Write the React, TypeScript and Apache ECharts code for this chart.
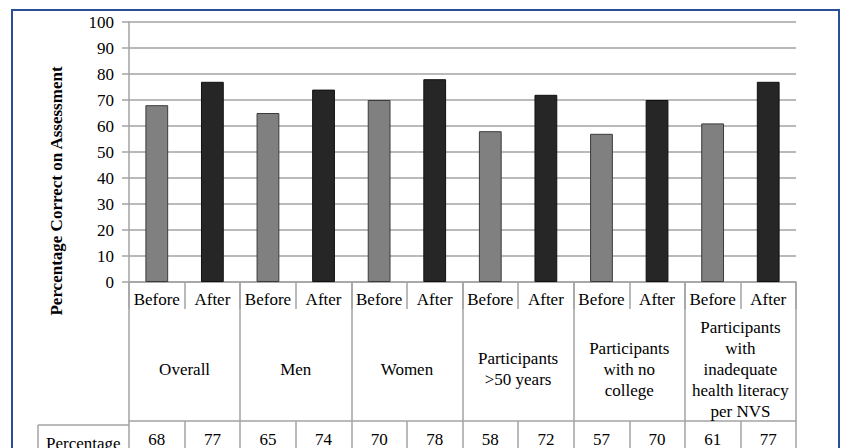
import React, { useEffect, useRef } from "react";
import * as echarts from "echarts";

const phases = ["Before", "After", "Before", "After", "Before", "After", "Before", "After", "Before", "After", "Before", "After"];
const groups = [
  "Overall",
  "Men",
  "Women",
  "Participants\n>50 years",
  "Participants\nwith no\ncollege",
  "Participants\nwith\ninadequate\nhealth literacy\nper NVS",
];
const values = [68, 77, 65, 74, 70, 78, 58, 72, 57, 70, 61, 77];
const yTicks = { min: 0, max: 100, interval: 10 };
const rowLabel = "Percentage";
const yTitle = "Percentage Correct on Assessment";

const FONT = "Liberation Serif";
const FS = 17;
const LINE = "#a3a3a3";

export default function App() {
  const ref = useRef<HTMLDivElement>(null);
  useEffect(() => {
    if (!ref.current) return;
    const chart = echarts.init(ref.current, null, { renderer: "svg" });
    const gridTop = 22;
    const gridBottomY = 286;
    const tableRowY = 425;
    chart.setOption({
      animation: false,
      backgroundColor: "#ffffff",
      textStyle: { fontFamily: FONT },
      grid: { left: 129, right: 47, top: gridTop, bottom: 448 - gridBottomY, containLabel: false },
      yAxis: {
        type: "value",
        min: yTicks.min,
        max: yTicks.max,
        interval: yTicks.interval,
        axisLine: { show: true, lineStyle: { color: LINE, width: 1.5 } },
        axisTick: { show: true, length: 7, lineStyle: { color: LINE, width: 1.5 } },
        axisLabel: { color: "#000", fontSize: FS, fontFamily: FONT, margin: 15 },
        splitLine: { show: true, lineStyle: { color: LINE, width: 1.5 } },
      },
      xAxis: [
        {
          type: "category",
          data: phases,
          position: "bottom",
          axisLine: { show: true, lineStyle: { color: LINE, width: 1.5 } },
          axisTick: { show: true, length: 27, interval: 0, lineStyle: { color: LINE, width: 1.5 } },
          axisLabel: { color: "#000", fontSize: FS, fontFamily: FONT, margin: 9, interval: 0 },
          splitLine: { show: false },
        },
        {
          type: "category",
          data: groups,
          position: "bottom",
          axisLine: { show: false },
          axisTick: { show: true, length: tableRowY - gridBottomY, interval: 0, lineStyle: { color: LINE, width: 1.5 } },
          axisLabel: {
            color: "#000",
            fontSize: FS,
            fontFamily: FONT,
            lineHeight: 21,
            margin: 87,
            verticalAlign: "middle",
            interval: 0,
            align: "center",
          },
        },
        {
          type: "category",
          data: values.map((v) => String(v)),
          position: "bottom",
          offset: tableRowY - gridBottomY,
          axisLine: { show: true, lineStyle: { color: LINE, width: 1.5 } },
          axisTick: { show: true, length: 40, interval: 0, lineStyle: { color: LINE, width: 1.5 } },
          axisLabel: { color: "#000", fontSize: FS, fontFamily: FONT, margin: 10, interval: 0 },
        },
      ],
      series: [
        {
          type: "bar",
          xAxisIndex: 0,
          barWidth: "41%",
          data: values.map((v, i) => ({
            value: v,
            itemStyle: {
              color: i % 2 === 0 ? "#808080" : "#262626",
              borderColor: i % 2 === 0 ? "#3a3a3a" : "#111111",
              borderWidth: 1,
            },
          })),
        },
      ],
      graphic: [
        {
          type: "rect",
          shape: { x: 12, y: 10, width: 827, height: 460 },
          style: { fill: "none", stroke: "#2b4f94", lineWidth: 2 },
          silent: true,
        },
        {
          type: "line",
          shape: { x1: 38, y1: tableRowY, x2: 129, y2: tableRowY },
          style: { stroke: LINE, lineWidth: 1.5 },
        },
        {
          type: "line",
          shape: { x1: 38, y1: tableRowY, x2: 38, y2: 460 },
          style: { stroke: LINE, lineWidth: 1.5 },
        },
        {
          type: "text",
          x: 46,
          y: 443,
          style: { text: rowLabel, fontSize: FS, fontFamily: FONT, fill: "#000", verticalAlign: "middle", align: "left" },
        },
        {
          type: "text",
          x: 56,
          y: 191,
          rotation: Math.PI / 2,
          style: {
            text: yTitle,
            fontSize: FS,
            fontWeight: "bold",
            fontFamily: FONT,
            fill: "#000",
            align: "center",
            verticalAlign: "middle",
          },
        },
      ],
    });
    return () => chart.dispose();
  }, []);
  return (
    <div
      ref={ref}
      style={{ position: "fixed", left: 0, top: 0, width: 843, height: 448, background: "#fff" }}
    />
  );
}
